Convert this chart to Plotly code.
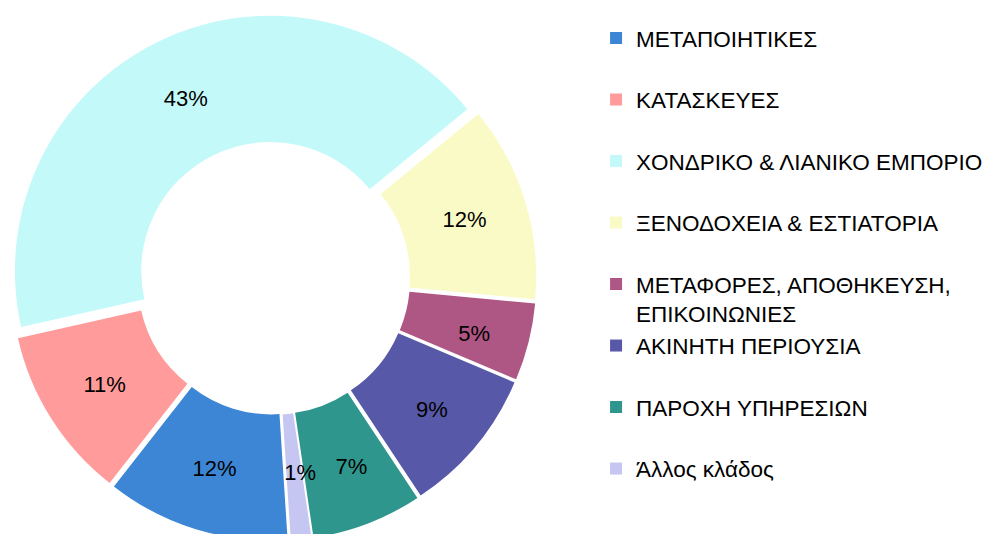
import plotly.graph_objects as go

labels = [
    "ΜΕΤΑΠΟΙΗΤΙΚΕΣ",
    "ΚΑΤΑΣΚΕΥΕΣ",
    "ΧΟΝΔΡΙΚΟ & ΛΙΑΝΙΚΟ ΕΜΠΟΡΙΟ",
    "ΞΕΝΟΔΟΧΕΙΑ & ΕΣΤΙΑΤΟΡΙΑ",
    "ΜΕΤΑΦΟΡΕΣ, ΑΠΟΘΗΚΕΥΣΗ,<br>ΕΠΙΚΟΙΝΩΝΙΕΣ",
    "ΑΚΙΝΗΤΗ ΠΕΡΙΟΥΣΙΑ",
    "ΠΑΡΟΧΗ ΥΠΗΡΕΣΙΩΝ",
    "Άλλος κλάδος",
]
# shares (%); labels show them rounded
values = [11.6, 10.9, 42.6, 12.4, 4.9, 9.3, 7.0, 1.3]
colors = ["#3d86d6", "#ff9b9b", "#c4f9f9", "#fafac6", "#ae5684",
          "#5858a8", "#2f968d", "#c6c6f2"]

# single-line labels get an empty second line so every legend entry
# occupies two text lines, as in the original
legend_labels = [l if "<br>" in l else l + "<br> " for l in labels]

# thin slices: pad their labels so the visible text sits mid-ring
# (as in the original) instead of being pushed to the outer rim
nb = "\u00a0"
pct = "%{percent:.0%}"
texttemplates = [
    pct,
    pct,
    pct,
    pct,
    pct + nb * 7,
    pct,
    pct + "<br>" + nb,
    pct + ("<br>" + nb) * 4,
]

fig = go.Figure(go.Pie(
    labels=legend_labels,
    values=values,
    sort=False,
    direction="clockwise",
    rotation=176.3,
    hole=0.505,
    pull=[0.031] * len(values),
    marker=dict(colors=colors, line=dict(width=0)),
    texttemplate=texttemplates,
    textposition="inside",
    insidetextorientation="horizontal",
    textfont=dict(family="Liberation Sans, Arial, sans-serif", size=22, color="black"),
    domain=dict(x=[0, 531 / 990], y=[0, 1]),
    hoverinfo="label+percent",
))

fig.update_layout(
    width=990,
    height=534,
    margin=dict(l=0, r=0, t=7, b=1),
    paper_bgcolor="white",
    plot_bgcolor="white",
    uniformtext=dict(minsize=22, mode="show"),
    showlegend=True,
    legend=dict(
        x=0.594, xanchor="left",
        y=0.9964, yanchor="top",
        valign="top",
        font=dict(family="Liberation Sans, Arial, sans-serif", size=22.5, color="black"),
        bgcolor="rgba(0,0,0,0)",
        borderwidth=0,
    ),
)

fig.write_html("out.html")
